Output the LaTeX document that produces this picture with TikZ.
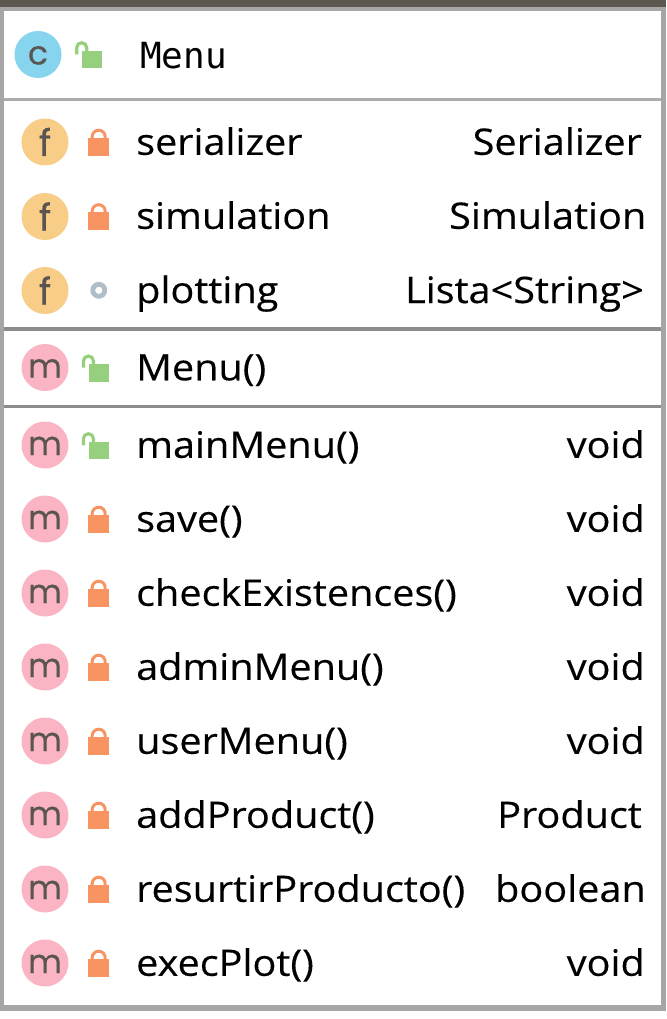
\documentclass[tikz,border=0pt]{standalone}
\usepackage{fontspec}
\setmainfont[FakeStretch=1.085,FakeBold=0.3]{Open Sans}
\newfontfamily\badgef[FakeBold=0.3]{Poppins}
\newfontfamily\monof{DejaVu Sans Mono}
\definecolor{topbar}{HTML}{5C574F}
\definecolor{frameg}{HTML}{A6A6A6}
\definecolor{sepa}{HTML}{ABABAB}
\definecolor{sepb}{HTML}{8C8C8C}
\definecolor{cblue}{HTML}{87D4EE}
\definecolor{forange}{HTML}{F8CD88}
\definecolor{mpink}{HTML}{FBB4C4}
\definecolor{letter}{HTML}{5A5550}
\definecolor{lockg}{HTML}{96D07F}
\definecolor{locko}{HTML}{F89462}
\definecolor{ringg}{HTML}{B0BEC8}
\tikzset{x=1pt,y=-1pt,
  badge/.style={circle,minimum size=47pt,inner sep=0pt,text=letter,text depth=0pt,text height=20pt,font=\badgef\fontsize{33}{33}\selectfont},
  fbadge/.style={badge,fill=forange,text height=28pt,font=\badgef\fontsize{37}{37}\selectfont},
  cname/.style={anchor=base west,font=\fontsize{36.5}{36.5}\selectfont,inner sep=0pt},
  ctype/.style={anchor=base east,font=\fontsize{36.5}{36.5}\selectfont,inner sep=0pt},
}
\newcommand{\privlock}[2]{%
  \fill[locko] (#1-9.7,#2-4.3) rectangle (#1+11,#2+13.7);
  \draw[locko,line width=3pt] (#1-5.8,#2-4) -- (#1-5.8,#2-5.3) arc[start angle=180,end angle=0,radius=6.5pt] -- (#1+7.2,#2-4);
}
\newcommand{\publock}[2]{%
  \fill[lockg] (#1-5.7,#2-3) rectangle (#1+14,#2+14.3);
  \draw[lockg,line width=3.2pt] (#1-11.3,#2+0.3) -- (#1-11.3,#2-6.3) arc[start angle=180,end angle=0,radius=5pt] -- (#1-1.3,#2-3);
}
\begin{document}
\begin{tikzpicture}
\useasboundingbox (0,0) rectangle (666,1019);
\fill[white] (0,0) rectangle (666,1019);
\fill[frameg] (0,0) rectangle (666,1011);
\fill[topbar] (0,0) rectangle (666,7);
\fill[white] (4.3,10.7) rectangle (660.5,1004.5);
\fill[sepa] (4.3,98.3) rectangle (660.5,101.2);
\fill[sepb] (4.3,327.4) rectangle (660.5,331);
\fill[sepb] (4.3,404.5) rectangle (660.5,408.2);
% class header
\node[badge,fill=cblue] (bc) at (38,54.5) {c};
\publock{88}{54}
\node[anchor=base west,inner sep=0pt,font=\monof\fontsize{36}{36}\selectfont] (title) at (140,68.3) {Menu};
% fields
\node[fbadge] (bf1) at (45,142) {f};
\privlock{98}{142}
\node[cname] (n1) at (136,154.8) {serializer};
\node[ctype] (t1) at (642,154.8) {Serializer};
\node[fbadge] (bf2) at (45,216.5) {f};
\privlock{98}{216.5}
\node[cname] (n2) at (136,228.8) {simulation};
\node[ctype] (t2) at (646.5,228.8) {Simulation};
\node[fbadge] (bf3) at (45,290.5) {f};
\draw[ringg,line width=4.8pt] (98.8,290.3) circle (6pt);
\node[cname] (n3) at (136,303) {plotting};
\node[ctype] (t3) at (644,303) {Lista<String>};
% constructor
\node[badge,fill=mpink] (bm0) at (45,367.5) {m};
\publock{94.7}{367.3}
\node[cname] (n4) at (136,380.3) {Menu()};
% methods
\foreach \nm/\ty/\yy/\xe/\pub in {
  mainMenu()/void/445/645/1,
  save()/void/519/645/0,
  checkExistences()/void/593/645/0,
  adminMenu()/void/667/645/0,
  userMenu()/void/741/645/0,
  addProduct()/Product/815/642/0,
  resurtirProducto()/boolean/889/646/0,
  execPlot()/void/963/645/0}{
  \node[badge,fill=mpink] (b\yy) at (45,\yy) {m};
  \ifnum\pub=1 \publock{94.7}{\yy}\else \privlock{98}{\yy}\fi
  \node[cname] (a\yy) at (136,\yy+12.8) {\nm};
  \node[ctype] (c\yy) at (\xe,\yy+12.8) {\ty};
}
\end{tikzpicture}
\end{document}
